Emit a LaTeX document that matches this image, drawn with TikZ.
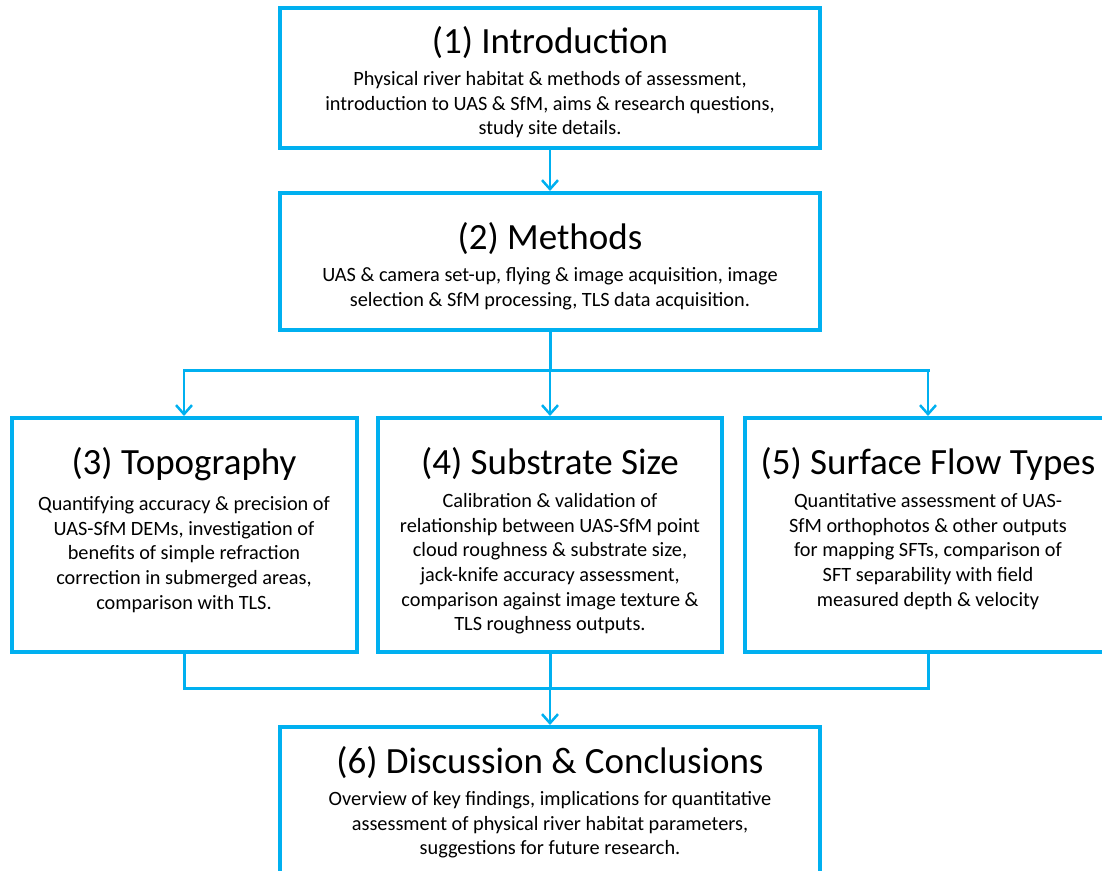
\documentclass[tikz,border=0pt]{standalone}
\usepackage{fontspec}
\setmainfont{Carlito}
\usetikzlibrary{arrows.meta}
\definecolor{sky}{HTML}{00B0F0}
\begin{document}
\begin{tikzpicture}[x=1pt,y=-1pt,
  box/.style n args={2}{draw=sky,line width=4pt,minimum width=#1,minimum height=#2,inner sep=0pt},
  ttl/.style={font=\fontsize{37}{42}\selectfont,anchor=center,inner sep=0pt},
  bdy/.style={font=\fontsize{20.3}{24.6}\selectfont,align=center,anchor=north,inner sep=0pt},
  conn/.style={draw=sky,line width=3pt},
  arr/.style={draw=sky,line width=2.5pt,-{Straight Barb[length=9pt,width=16pt,line width=2.5pt]}}]
\useasboundingbox (0,0) rectangle (1102,870);
\clip (0,0) rectangle (1102,870);
% boxes
\node[box={540pt}{140pt}] (b1) at (550,78) {};
\node[box={540pt}{137pt}] (b2) at (550,261.5) {};
\node[box={345pt}{234pt}] (b3) at (184,535) {};
\node[box={344pt}{234pt}] (b4) at (550,535) {};
\node[box={366pt}{234pt}] (b5) at (928,535) {};
\node[box={540pt}{150pt}] (b6) at (550,802) {};
% texts
\node[ttl] (t1) at (550,43) {(1) Introduction};
\node[bdy] (d1) at (550,71.4) {Physical river habitat \& methods of assessment,\\introduction to UAS \& SfM, aims \& research questions,\\study site details.};
\node[ttl] (t2) at (550,239) {(2) Methods};
\node[bdy] (d2) at (550,267.4) {UAS \& camera set-up, flying \& image acquisition, image\\selection \& SfM processing, TLS data acquisition.};
\node[ttl] (t3) at (184,464) {(3) Topography};
\node[bdy] (d3) at (184,496.4) {Quantifying accuracy \& precision of\\UAS-SfM DEMs, investigation of\\benefits of simple refraction\\correction in submerged areas,\\comparison with TLS.};
\node[ttl] (t4) at (550,464) {(4) Substrate Size};
\node[bdy] (d4) at (550,493.4) {Calibration \& validation of\\relationship between UAS-SfM point\\cloud roughness \& substrate size,\\jack-knife accuracy assessment,\\comparison against image texture \&\\TLS roughness outputs.};
\node[ttl] (t5) at (928,464) {(5) Surface Flow Types};
\node[bdy] (d5) at (928,493.4) {Quantitative assessment of UAS-\\SfM orthophotos \& other outputs\\for mapping SFTs, comparison of\\SFT separability with field\\measured depth \& velocity};
\node[ttl] (t6) at (550,763) {(6) Discussion \& Conclusions};
\node[bdy] (d6) at (550,791.4) {Overview of key findings, implications for quantitative\\assessment of physical river habitat parameters,\\suggestions for future research.};
% junctions
\coordinate (ja) at (550,370);
\coordinate (jl) at (184,370);
\coordinate (jr) at (928,370);
\coordinate (ka) at (550,688);
\coordinate (kl) at (184,688);
\coordinate (kr) at (928,688);
% connectors
\draw[arr] (b1.south) -- (b2.north);
\draw[conn] (b2.south) -- (ja);
\draw[conn,line cap=rect] (jl) -- (jr);
\draw[arr] (jl) -- (b3.north);
\draw[arr] (ja) -- (b4.north);
\draw[arr] (jr) -- (b5.north);
\draw[conn,line join=miter] (b3.south) -- (kl) -- (kr) -- (b5.south);
\draw[conn] (b4.south) -- (ka);
\draw[arr] (ka) -- (b6.north);
\end{tikzpicture}
\end{document}
